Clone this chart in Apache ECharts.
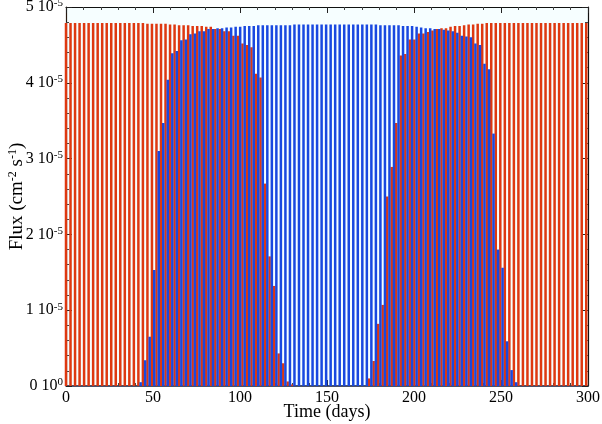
<!DOCTYPE html>
<html>
<head>
<meta charset="utf-8">
<script src="https://cdn.jsdelivr.net/npm/echarts@6/dist/echarts.min.js"></script>
<style>html,body{margin:0;padding:0;background:#fff}#c{width:602px;height:424px}</style>
</head>
<body>
<div id="c"></div>
<script>
// Time of each red spike (days)
var redTimes = [0, 2.6, 5.2, 7.8, 10.4, 13, 15.6, 18.2, 20.8, 23.4, 26, 28.6, 31.2, 33.8, 36.4,
  39, 41.6, 44.2, 46.8, 49.4, 52, 54.6, 57.2, 59.8, 62.4, 65, 67.6, 70.2, 72.8, 75.4,
  78, 80.6, 83.2, 85.8, 88.4, 91, 93.6, 96.2, 98.8, 101.4, 104, 106.6, 109.2, 111.8, 114.4,
  117, 119.6, 122.2, 124.8, 127.4, 130,
  174.2, 176.8, 179.4, 182, 184.6, 187.2, 189.8, 192.4, 195, 197.6, 200.2, 202.8, 205.4, 208,
  210.6, 213.2, 215.8, 218.4, 221, 223.6, 226.2, 228.8, 231.4, 234, 236.6, 239.2, 241.8, 244.4,
  247, 249.6, 252.2, 254.8, 257.4, 260, 262.6, 265.2, 267.8, 270.4, 273, 275.6, 278.2, 280.8,
  283.4, 286, 288.6, 291.2, 293.8, 296.4, 299];
// Red flux in units of 1e-5 cm^-2 s^-1
var redFlux = [4.79, 4.79, 4.79, 4.79, 4.79, 4.79, 4.79, 4.79, 4.79, 4.79, 4.79, 4.79, 4.79, 4.79, 4.79,
  4.79, 4.79, 4.79, 4.78, 4.78, 4.78, 4.78, 4.78, 4.77, 4.77, 4.76, 4.76, 4.76, 4.75, 4.75,
  4.75, 4.74, 4.74, 4.71, 4.71, 4.68, 4.68, 4.62, 4.62, 4.52, 4.50, 4.47, 4.12, 4.07, 2.67,
  1.71, 1.32, 0.43, 0.30, 0.06, 0.02,
  0.10, 0.33, 0.82, 1.07, 2.50, 2.89, 3.47, 4.36, 4.38, 4.57, 4.57, 4.65, 4.65, 4.67,
  4.69, 4.71, 4.72, 4.72, 4.74, 4.75, 4.75, 4.76, 4.77, 4.77, 4.78, 4.78, 4.79, 4.79,
  4.79, 4.79, 4.79, 4.79, 4.79, 4.79, 4.79, 4.79, 4.79, 4.79, 4.79, 4.79, 4.79, 4.79,
  4.79, 4.79, 4.79, 4.79, 4.79, 4.79, 4.79];
// Time of each blue spike (days)
var blueTimes = [42.9, 45.5, 48.1, 50.7, 53.3, 55.9, 58.5, 61.1, 63.7, 66.3, 68.9, 71.5, 74.1, 76.7,
  79.3, 81.9, 84.5, 87.1, 89.7, 92.3, 94.9, 97.5, 100.1, 102.7, 105.3, 107.9, 110.5, 113.1,
  115.7, 118.3, 120.9, 123.5, 126.1, 128.7, 131.3, 133.9, 136.5, 139.1, 141.7, 144.3, 146.9,
  149.5, 152.1, 154.7, 157.3, 159.9, 162.5, 165.1, 167.7, 170.3, 172.9, 175.5, 178.1, 180.7,
  183.3, 185.9, 188.5, 191.1, 193.7, 196.3, 198.9, 201.5, 204.1, 206.7, 209.3, 211.9, 214.5,
  217.1, 219.7, 222.3, 224.9, 227.5, 230.1, 232.7, 235.3, 237.9, 240.5, 243.1, 245.7, 248.3,
  250.9, 253.5, 256.1, 258.7];
// Blue flux in units of 1e-5 cm^-2 s^-1
var blueFlux = [0.05, 0.34, 0.65, 1.53, 3.10, 3.47, 4.04, 4.39, 4.42, 4.56, 4.57, 4.64, 4.65, 4.68,
  4.68, 4.71, 4.71, 4.72, 4.72, 4.73, 4.73, 4.74, 4.74, 4.75, 4.75, 4.75, 4.76, 4.76,
  4.76, 4.76, 4.76, 4.76, 4.76, 4.76, 4.77, 4.77, 4.77, 4.77, 4.77, 4.77, 4.77,
  4.77, 4.77, 4.77, 4.77, 4.77, 4.77, 4.77, 4.77, 4.77, 4.77, 4.77, 4.77, 4.76,
  4.76, 4.76, 4.76, 4.76, 4.75, 4.75, 4.75, 4.74, 4.73, 4.72, 4.72, 4.71, 4.71,
  4.70, 4.69, 4.68, 4.66, 4.62, 4.61, 4.60, 4.52, 4.50, 4.25, 4.18, 3.33, 1.80,
  1.56, 0.59, 0.21, 0.05];
var xTicks = [0, 50, 100, 150, 200, 250, 300];
var yTickMantissa = [0, 1, 2, 3, 4, 5];

var serif = 'Liberation Serif';
function pairs(t, v) { return t.map(function (x, i) { return [x, v[i]]; }); }

var chart = echarts.init(document.getElementById('c'), null, {renderer: 'canvas'});
var axisLineStyle = {color: '#111', width: 1.2};
var option = {
  animation: false,
  backgroundColor: '#ffffff',
  grid: {left: 66, right: 14, top: 7, bottom: 38, show: true, backgroundColor: '#f6feff', borderWidth: 0,
    containLabel: false, outerBoundsMode: 'none'},
  xAxis: [{
    type: 'value', min: xTicks[0], max: xTicks[xTicks.length - 1], interval: 50,
    name: 'Time (days)', nameLocation: 'middle', nameGap: 17, nameMoveOverlap: false,
    nameTextStyle: {fontFamily: serif, fontSize: 18, color: '#000', verticalAlign: 'top'},
    axisLine: {show: true, onZero: false, lineStyle: {color: '#101838', width: 1.5}},
    axisTick: {show: true, inside: true, length: 6, lineStyle: {color: '#222'}},
    minorTick: {show: true, splitNumber: 5, length: 3, lineStyle: {color: '#444'}},
    splitLine: {show: false},
    axisLabel: {fontFamily: serif, fontSize: 16, color: '#000', margin: 4}
  }, {
    type: 'value', position: 'top', min: 0, max: 300, interval: 50,
    axisLine: {show: true, onZero: false, lineStyle: axisLineStyle},
    axisTick: {show: true, inside: true, length: 6, lineStyle: {color: '#222'}},
    minorTick: {show: true, splitNumber: 5, length: 3, lineStyle: {color: '#444'}},
    splitLine: {show: false}, axisLabel: {show: false}
  }],
  yAxis: [{
    type: 'value', min: yTickMantissa[0], max: yTickMantissa[yTickMantissa.length - 1], interval: 1,
    name: '{n|Flux (cm}{s|-2}{n| s}{s|-1}{n|)}', nameLocation: 'middle', nameGap: 38, nameRotate: 90,
    nameMoveOverlap: false,
    nameTextStyle: {fontFamily: serif, fontSize: 18, color: '#000',
      rich: {
        n: {fontFamily: serif, fontSize: 19, color: '#000'},
        s: {fontFamily: serif, fontSize: 12, color: '#000', padding: [0, 0, 9, 0]}
      }},
    axisLine: {show: true, onZero: false, lineStyle: {color: '#2a1a10', width: 1.2}},
    axisTick: {show: true, inside: true, length: 6, lineStyle: {color: '#222'}},
    minorTick: {show: true, splitNumber: 5, length: 3, lineStyle: {color: '#444'}},
    splitLine: {show: false},
    axisLabel: {
      margin: 3,
      formatter: function (v) { return v === 0 ? '{n|0 10}{s|0}' : '{n|' + v + ' 10}{s|-5}'; },
      rich: {
        n: {fontFamily: serif, fontSize: 16, color: '#000'},
        s: {fontFamily: serif, fontSize: 11, color: '#000', padding: [0, 0, 7, 0]}
      }
    }
  }, {
    type: 'value', position: 'right', min: 0, max: 5, interval: 1,
    axisLine: {show: true, onZero: false, lineStyle: axisLineStyle},
    axisTick: {show: true, inside: true, length: 6, lineStyle: {color: '#222'}},
    minorTick: {show: true, splitNumber: 5, length: 3, lineStyle: {color: '#444'}},
    splitLine: {show: false}, axisLabel: {show: false}
  }],
  series: [{
    type: 'bar', xAxisIndex: 0, yAxisIndex: 0, barWidth: 2.5, barGap: '-100%',
    itemStyle: {color: '#de3810'}, data: pairs(redTimes, redFlux)
  }, {
    type: 'bar', xAxisIndex: 0, yAxisIndex: 0, barWidth: 2.5, barGap: '-100%',
    itemStyle: {color: '#1848e0'}, data: pairs(blueTimes, blueFlux)
  }]
};
chart.setOption(option);
</script>
</body>
</html>
